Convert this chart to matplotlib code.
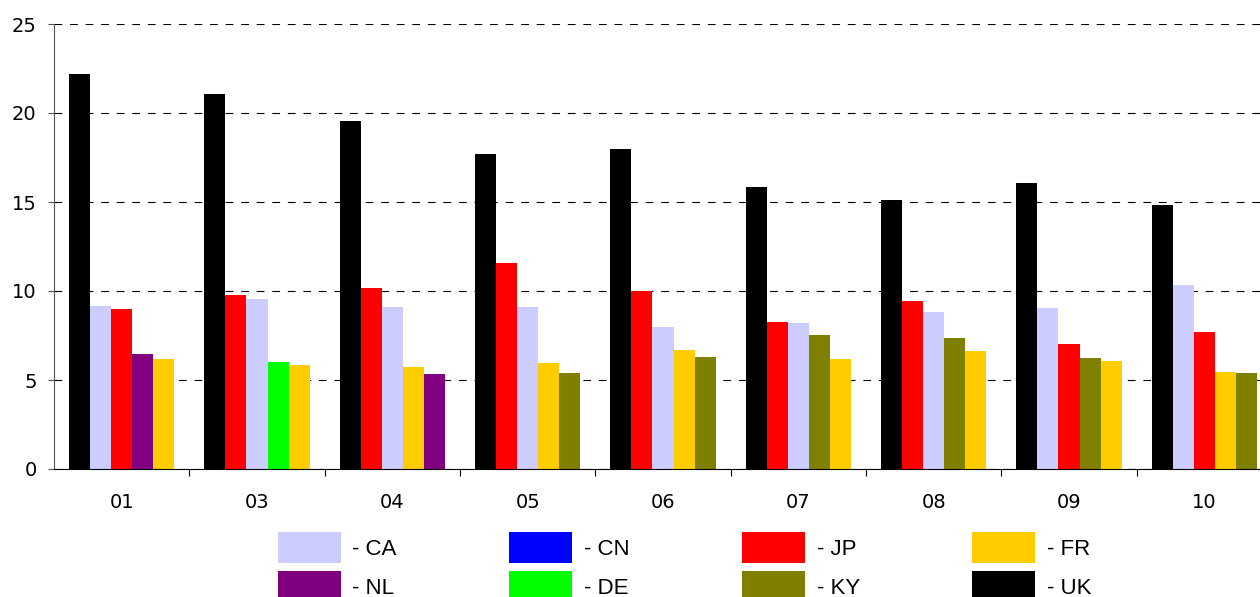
import matplotlib.pyplot as plt
import numpy as np
from matplotlib.patches import Patch

years = ["01", "03", "04", "05", "06", "07", "08", "09", "10"]

nan = np.nan
uk = [22.17, 21.07, 19.53, 17.71, 17.99, 15.86, 15.13, 16.07, 14.85]
ca = [9.17, 9.57, 9.12, 9.12, 7.99, 8.18, 8.84, 9.06, 10.34]
jp = [9.00, 9.78, 10.19, 11.57, 10.00, 8.28, 9.46, 7.04, 7.70]
fr = [6.20, 5.86, 5.75, 5.97, 6.70, 6.20, 6.65, 6.08, 5.47]
nl = [6.46, nan, 5.35, nan, nan, nan, nan, nan, nan]
de = [nan, 6.03, nan, nan, nan, nan, nan, nan, nan]
ky = [nan, nan, nan, 5.41, 6.31, 7.54, 7.38, 6.25, 5.41]
cn = [nan] * 9

series = {
    "CA": (ca, "#CCCCFF"),
    "CN": (cn, "#0000FF"),
    "JP": (jp, "#FF0000"),
    "FR": (fr, "#FFCC00"),
    "NL": (nl, "#800080"),
    "DE": (de, "#00FF00"),
    "KY": (ky, "#808000"),
    "UK": (uk, "#000000"),
}

fig = plt.figure(figsize=(12.6, 5.97), dpi=100)
ax = fig.add_axes([54 / 1260, 1 - 469 / 597, 1218 / 1260, 445 / 597])

bw = 0.156
for i in range(len(years)):
    # bars inside each year are ranked from largest to smallest
    vals = [(v[i], name) for name, (v, c) in series.items() if not np.isnan(v[i])]
    vals.sort(reverse=True)
    for k, (v, name) in enumerate(vals):
        x = i - 2 * bw + k * bw
        ax.bar(x, v, width=bw, color=series[name][1], linewidth=0, zorder=2)

ax.set_xlim(-0.5, len(years) - 0.5)
ax.set_ylim(0, 25)
ax.set_yticks([0, 5, 10, 15, 20, 25])
ax.set_xticks(range(len(years)))
ax.set_xticklabels(years)
ax.set_xticks(np.arange(len(years)) + 0.5, minor=True)

ax.grid(axis="y", color="black", linestyle=(0, (7, 7)), linewidth=0.8)
ax.set_axisbelow(True)

for s in ["top", "right"]:
    ax.spines[s].set_visible(False)
ax.spines["left"].set_color("#555555")
ax.spines["bottom"].set_color("black")
ax.tick_params(axis="y", length=4.5, width=0.8, color="#555555", pad=8, labelsize=14)
ax.tick_params(axis="x", which="major", length=0, pad=17, labelsize=14)
ax.tick_params(axis="x", which="minor", length=5, width=0.8, direction="out")

# legend fills column by column, so interleave the two rows
order = ["CA", "NL", "CN", "DE", "JP", "KY", "FR", "UK"]
handles = [Patch(facecolor=series[n][1], edgecolor="none") for n in order]
labels = ["- " + n for n in order]
fig.legend(handles, labels, ncol=4, loc="upper left",
           bbox_to_anchor=(277.5 / 1260, 1 - 532 / 597), frameon=False,
           prop={"family": "Liberation Sans", "size": 16},
           handlelength=2.84, handleheight=1.77, handletextpad=0.53,
           columnspacing=5.05, labelspacing=0.36, borderaxespad=0, borderpad=0)

fig.savefig("out.png", dpi=100)
